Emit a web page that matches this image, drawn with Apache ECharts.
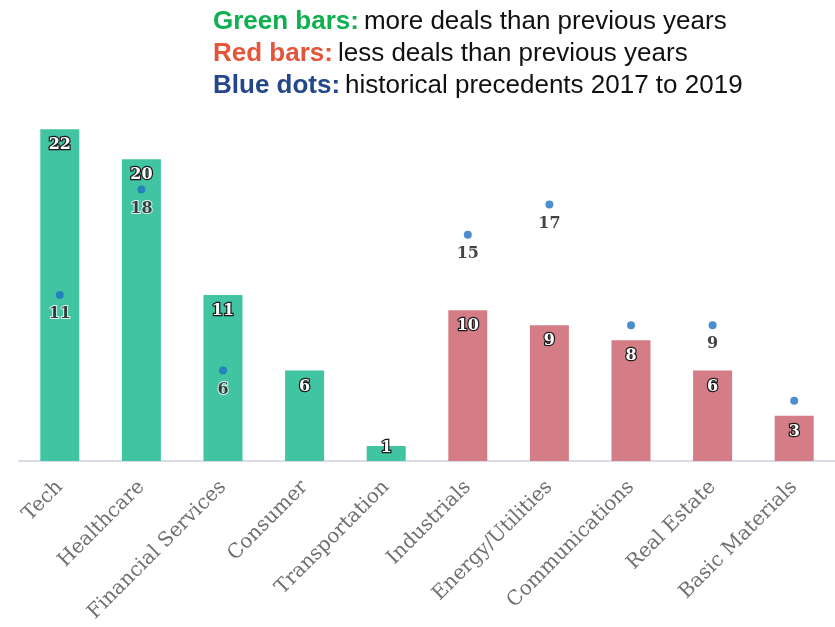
<!DOCTYPE html>
<html>
<head>
<meta charset="utf-8">
<script src="https://cdn.jsdelivr.net/npm/echarts@6/dist/echarts.min.js"></script>
<style>
  html, body { margin: 0; padding: 0; background: #fff; }
  #chart { width: 835px; height: 627px; }
</style>
</head>
<body>
<div id="chart"></div>
<script>
// Deals per sector, with historical precedents 2017-2019
const categories = ['Tech', 'Healthcare', 'Financial Services', 'Consumer', 'Transportation',
  'Industrials', 'Energy/Utilities', 'Communications', 'Real Estate', 'Basic Materials'];
const deals = [22, 20, 11, 6, 1, 10, 9, 8, 6, 3];
const precedents = [11, 18, 6, null, null, 15, 17, 9, 9, 4];
// Which precedent dots carry a value label
const precedentLabelShown = [true, true, true, false, false, true, true, false, true, false];
const moreThanBefore = [true, true, true, true, true, false, false, false, false, false];

const GREEN = '#40c4a2';
const RED = '#d57d87';
const BLUE = '#1f72c0';

const chart = echarts.init(document.getElementById('chart'));

const legendFont = 'Liberation Sans';
const legendSize = 26;

chart.setOption({
  animation: false,
  title: {
    left: 208,
    top: 1,
    text: '{g|Green bars:} {t|more deals than previous years}\n{r|Red bars:} {t|less deals than previous years}\n{b|Blue dots:} {t|historical precedents 2017 to 2019}',
    textStyle: {
      fontWeight: 'normal',
      rich: {
        g: { fontFamily: legendFont, fontSize: legendSize, fontWeight: 'bold', color: '#0fb04f', lineHeight: 32 },
        r: { fontFamily: legendFont, fontSize: legendSize, fontWeight: 'bold', color: '#e4553a', lineHeight: 32 },
        b: { fontFamily: legendFont, fontSize: legendSize, fontWeight: 'bold', color: '#23478a', lineHeight: 32 },
        t: { fontFamily: legendFont, fontSize: legendSize, fontWeight: 'normal', color: '#111', lineHeight: 32 }
      }
    }
  },
  grid: { left: 19, right: 0, top: 99, bottom: 166 },
  xAxis: {
    type: 'category',
    data: categories,
    axisLine: { lineStyle: { color: '#dcdce8', width: 2 } },
    axisTick: { show: false },
    axisLabel: {
      rotate: 45,
      margin: 23,
      interval: 0,
      color: '#707070',
      fontFamily: 'DejaVu Serif',
      fontSize: 20
    }
  },
  yAxis: {
    type: 'value',
    min: 0,
    max: 24,
    show: false,
    splitLine: { show: false }
  },
  series: [
    {
      type: 'bar',
      barWidth: 39,
      data: deals.map((v, i) => ({
        value: v,
        itemStyle: { color: moreThanBefore[i] ? GREEN : RED },
        // a one-deal bar is too short to hold its label, so lift it onto the top edge
        label: v < 2 ? { offset: [0, -14] } : undefined
      })),
      label: {
        show: true,
        position: 'insideTop',
        distance: 8,
        fontFamily: 'DejaVu Serif',
        fontWeight: 'bold',
        fontSize: 16,
        color: '#fff',
        textBorderColor: '#1a1a1a',
        textBorderWidth: 2.5
      },
      z: 2
    },
    {
      type: 'scatter',
      symbolSize: 8,
      itemStyle: { color: BLUE },
      data: precedents.map((v, i) => ({
        value: v,
        label: { show: v !== null && precedentLabelShown[i] }
      })),
      label: {
        position: 'bottom',
        distance: 7,
        fontFamily: 'DejaVu Serif',
        fontWeight: 'bold',
        fontSize: 16,
        color: '#151515',
        textBorderColor: '#fff',
        textBorderWidth: 2
      },
      z: 3
    }
  ]
});
</script>
</body>
</html>
